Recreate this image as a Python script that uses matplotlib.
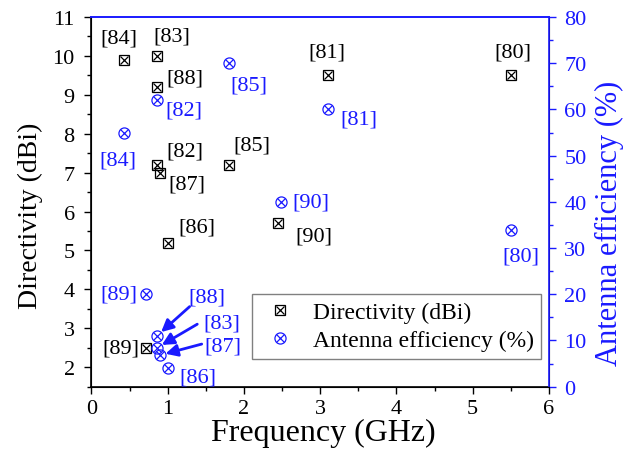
import numpy as np
import matplotlib
matplotlib.use('Agg')
import matplotlib.pyplot as plt
from matplotlib.ticker import MultipleLocator

plt.rcParams['font.family'] = ['Liberation Serif', 'DejaVu Serif']

azul = '#1a1aff'

# diretividade (dBi) por referência
ref_dir = ['[84]', '[83]', '[88]', '[82]', '[87]', '[85]', '[86]', '[90]', '[81]', '[80]', '[89]']
freq_dir = [0.433, 0.86, 0.86, 0.86, 0.9, 1.8, 1.0, 2.45, 3.1, 5.5, 0.72]
diretiv = [9.9, 10.0, 9.2, 7.2, 7.0, 7.2, 5.2, 5.7, 9.5, 9.5, 2.5]
# deslocamento dos rótulos (pontos)
off_dir = [(-4, 16), (11, 14), (20, 6.5), (20, 10), (19, -8), (17, 14), (21, 11), (26, -9), (-1, 17), (1.5, 17), (-18.5, 0)]

# eficiência da antena (%) por referência
ref_ef = ['[85]', '[82]', '[84]', '[81]', '[90]', '[80]', '[89]', '[88]', '[83]', '[87]', '[86]']
freq_ef = [1.8, 0.86, 0.433, 3.1, 2.48, 5.5, 0.72, 0.86, 0.86, 0.9, 1.0]
eficiencia = [70, 62, 55, 60, 40, 34, 20, 11, 8.4, 6.8, 4]
off_ef = [(14.5, -16), (19.5, -7), (-5, -20), (22, -7), (22, 0), (7, -19), (-20, 0),
          (36, 28), (47, 18), (45, 6.5), (21.5, -6.5)]
# rótulos com seta: início da seta (pontos)
seta = {'[88]': (23.5, 21), '[83]': (29, 17), '[87]': (30, 8)}

fig = plt.figure(figsize=(6.26, 4.56), dpi=100)
ax = fig.add_axes([0.146, 0.150, 0.731, 0.8105])
ax2 = ax.twinx()

ms = 7
h1 = ax.plot(freq_dir, diretiv, 's', ms=ms, mfc='none', mec='black', mew=0.9)[0]
h1x = ax.plot(freq_dir, diretiv, 'x', ms=ms * 0.75, color='black', mew=0.9)[0]
h2 = ax2.plot(freq_ef, eficiencia, 'o', ms=ms + 1, mfc='none', mec=azul, mew=0.9)[0]
h2x = ax2.plot(freq_ef, eficiencia, 'x', ms=ms * 0.75, color=azul, mew=0.9)[0]

for r, x, y, o in zip(ref_dir, freq_dir, diretiv, off_dir):
    ax.annotate(r, (x, y), xytext=o, textcoords='offset points',
                ha='center', va='center', fontsize=16, color='black')

for r, x, y, o in zip(ref_ef, freq_ef, eficiencia, off_ef):
    ax2.annotate(r, (x, y), xytext=o, textcoords='offset points',
                 ha='center', va='center', fontsize=16, color=azul)
    if r in seta:
        ax2.annotate('', (x, y), xytext=seta[r], textcoords='offset points',
                     arrowprops=dict(arrowstyle='-|>', color=azul, lw=2.0,
                                     mutation_scale=18, shrinkA=0, shrinkB=4))

ax.set_xlim(0, 6)
ax.set_ylim(1.5, 11)
ax2.set_ylim(0, 80)
ax.xaxis.set_major_locator(MultipleLocator(1))
ax.xaxis.set_minor_locator(MultipleLocator(0.5))
ax.yaxis.set_major_locator(MultipleLocator(1))
ax.yaxis.set_minor_locator(MultipleLocator(0.5))
ax2.yaxis.set_major_locator(MultipleLocator(10))
ax2.yaxis.set_minor_locator(MultipleLocator(5))

ax.tick_params(axis='both', which='major', direction='out', length=5, width=1, labelsize=16)
ax.tick_params(axis='y', which='major', pad=7)
ax.tick_params(axis='x', which='major', pad=4)
ax.tick_params(axis='both', which='minor', direction='out', length=3, width=1)
ax.tick_params(axis='x', which='both', top=False)
ax2.tick_params(axis='y', which='major', direction='out', length=5, width=1, labelsize=16,
                colors=azul, pad=6)
ax2.tick_params(axis='y', which='minor', direction='out', length=3, width=1, colors=azul)
# eixo superior azul com marcas para dentro
ax2.tick_params(axis='x', which='major', top=True, bottom=False, labeltop=False, labelbottom=False,
                direction='in', length=5, width=1, colors=azul)
ax2.tick_params(axis='x', which='minor', top=True, bottom=False, direction='in', length=5,
                width=1, colors=azul)

ax.spines['top'].set_color(azul)
ax2.spines['top'].set_color(azul)
ax2.spines['right'].set_color(azul)
for lado in ['left', 'bottom', 'top']:
    ax.spines[lado].set_linewidth(1.2)
ax2.spines['right'].set_linewidth(1.2)
ax2.spines['top'].set_linewidth(1.2)

ax.set_xlabel('Frequency (GHz)', fontsize=23)
ax.set_ylabel('Directivity (dBi)', fontsize=20)
ax2.set_ylabel('Antenna efficiency (%)', fontsize=22, color=azul)
ax.xaxis.set_label_coords(0.507, -0.086)
ax.yaxis.set_label_coords(-0.106, 0.465)
ax2.yaxis.set_label_coords(1.100, 0.444)

leg = ax2.legend([(h1, h1x), (h2, h2x)], ['Directivity (dBi)', 'Antenna efficiency (%)'],
                 loc='upper left', bbox_to_anchor=(0.350, 0.250), fontsize=17,
                 frameon=True, fancybox=False, edgecolor='gray', framealpha=1,
                 handlelength=1.8, handletextpad=0.5, borderpad=0.3, labelspacing=0.3,
                 borderaxespad=0)
leg.get_frame().set_linewidth(1.0)

fig.savefig('out.png', dpi=100)
